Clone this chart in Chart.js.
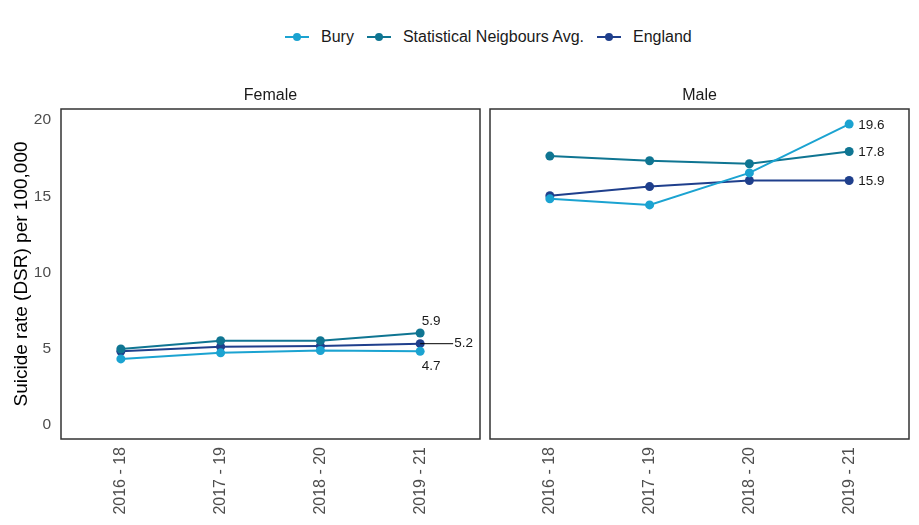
<!DOCTYPE html>
<html>
<head>
<meta charset="utf-8">
<script src="https://cdn.jsdelivr.net/npm/chart.js@4"></script>
<style>
  body { margin: 0; width: 919px; height: 525px; background: #fff; font-family: "Liberation Sans", Arial, sans-serif; overflow: hidden; }
  #legend { position: absolute; top: 28px; left: 285px; white-space: nowrap; font-size: 16px; color: #1a1a1a; display: flex; align-items: center; }
  .item { display: inline-flex; align-items: center; margin-right: 13px; }
  .sym { position: relative; width: 24px; height: 10px; margin-right: 12px; }
  .sym .ln { position: absolute; left: 0; right: 0; top: 4px; height: 2px; }
  .sym .dt { position: absolute; left: 8px; top: 1px; width: 8px; height: 8px; border-radius: 50%; }
  #female { position: absolute; left: 0; top: 80px; }
  #male { position: absolute; left: 485px; top: 80px; }
</style>
</head>
<body>
<div id="legend"></div>
<canvas id="female" width="485" height="445"></canvas>
<canvas id="male" width="434" height="445"></canvas>
<script>
const periods = ['2016 - 18', '2017 - 19', '2018 - 20', '2019 - 21'];
const seriesNames = ['Bury', 'Statistical Neigbours Avg.', 'England'];
const seriesColors = ['#1ba3d1', '#0f7592', '#1f3f8c'];

const femaleBury = [4.2, 4.6, 4.75, 4.7];
const femaleNeighbours = [4.85, 5.4, 5.4, 5.9];
const femaleEngland = [4.7, 5.0, 5.05, 5.2];

const maleBury = [14.7, 14.3, 16.4, 19.6];
const maleNeighbours = [17.5, 17.2, 17.0, 17.8];
const maleEngland = [14.9, 15.5, 15.9, 15.9];

const yTicks = [0, 5, 10, 15, 20];

const FONT = '"Liberation Sans", Arial, sans-serif';

// legend
const legend = document.getElementById('legend');
seriesNames.forEach((name, i) => {
    const el = document.createElement('span');
    el.className = 'item';
    el.innerHTML = '<span class="sym"><span class="ln" style="background:' + seriesColors[i] + '"></span>' +
        '<span class="dt" style="background:' + seriesColors[i] + '"></span></span>' + name;
    legend.appendChild(el);
});

function makeDatasets(values) {
    return values.map((vals, i) => ({
        label: seriesNames[i],
        data: vals.map((v, j) => ({ x: j, y: v })),
        borderColor: seriesColors[i],
        backgroundColor: seriesColors[i],
        borderWidth: 2,
        pointRadius: 4.5,
        pointBorderWidth: 0,
        pointHoverRadius: 4.5,
        tension: 0
    }));
}

// draws the box, strip title and end labels
const panelPlugin = {
    id: 'panel',
    afterDatasetsDraw(chart, args, opts) {
        const ctx = chart.ctx;
        const a = chart.chartArea;
        ctx.save();
        ctx.strokeStyle = '#333';
        ctx.lineWidth = 1.5;
        ctx.strokeRect(a.left, a.top, a.right - a.left, a.bottom - a.top);

        ctx.fillStyle = '#1a1a1a';
        ctx.font = '16px ' + FONT;
        ctx.textAlign = 'center';
        ctx.textBaseline = 'middle';
        ctx.fillText(opts.title, (a.left + a.right) / 2, a.top - 13);

        ctx.font = '13.5px ' + FONT;
        chart.data.datasets.forEach((ds, i) => {
            const pt = chart.getDatasetMeta(i).data[3];
            const txt = ds.data[3].y.toFixed(1);
            const pos = opts.labelPos[i];
            if (pos === 'right') {
                ctx.textAlign = 'left';
                ctx.fillText(txt, pt.x + 9, pt.y + 1);
            } else if (pos === 'above') {
                ctx.textAlign = 'center';
                ctx.fillText(txt, pt.x + 11, pt.y - 12);
            } else if (pos === 'below') {
                ctx.textAlign = 'center';
                ctx.fillText(txt, pt.x + 11, pt.y + 15);
            } else if (pos === 'leader') {
                ctx.strokeStyle = '#000';
                ctx.lineWidth = 1;
                ctx.beginPath();
                ctx.moveTo(pt.x, pt.y);
                ctx.lineTo(pt.x + 33, pt.y);
                ctx.stroke();
                ctx.textAlign = 'left';
                ctx.fillText(txt, pt.x + 34, pt.y);
            }
        });
        ctx.restore();
    }
};

function makeChart(id, values, title, labelPos, showY) {
    return new Chart(document.getElementById(id), {
        type: 'line',
        data: { datasets: makeDatasets(values) },
        plugins: [panelPlugin],
        options: {
            responsive: false,
            animation: false,
            layout: { padding: { top: 29, right: showY ? 5 : 10, left: showY ? 0 : 5, bottom: 0 } },
            plugins: {
                legend: { display: false },
                tooltip: { enabled: false },
                panel: { title: title, labelPos: labelPos }
            },
            scales: {
                x: {
                    type: 'linear',
                    min: -0.6,
                    max: 3.6,
                    grid: { display: false, drawTicks: false },
                    border: { display: false },
                    afterBuildTicks: (s) => { s.ticks = periods.map((p, i) => ({ value: i })); },
                    afterFit: (s) => { s.height = 86; },
                    ticks: {
                        callback: (v) => periods[v],
                        minRotation: 90,
                        maxRotation: 90,
                        padding: 8,
                        color: '#4d4d4d',
                        font: { size: 16, family: FONT }
                    }
                },
                y: {
                    min: -1.05,
                    max: 20.59,
                    display: showY,
                    grid: { display: false, drawTicks: false },
                    border: { display: false },
                    afterBuildTicks: (s) => { s.ticks = yTicks.map(v => ({ value: v })); },
                    afterFit: (s) => { s.width = showY ? 61 : 0; },
                    title: {
                        display: true,
                        text: 'Suicide rate (DSR) per 100,000',
                        color: '#000',
                        padding: { top: 10, bottom: 4 },
                        font: { size: 19, family: FONT }
                    },
                    ticks: {
                        padding: 10,
                        labelOffset: 2,
                        color: '#4d4d4d',
                        font: { size: 15.5, family: FONT }
                    }
                }
            }
        }
    });
}

makeChart('female', [femaleBury, femaleNeighbours, femaleEngland], 'Female', ['below', 'above', 'leader'], true);
makeChart('male', [maleBury, maleNeighbours, maleEngland], 'Male', ['right', 'right', 'right'], false);
</script>
</body>
</html>
